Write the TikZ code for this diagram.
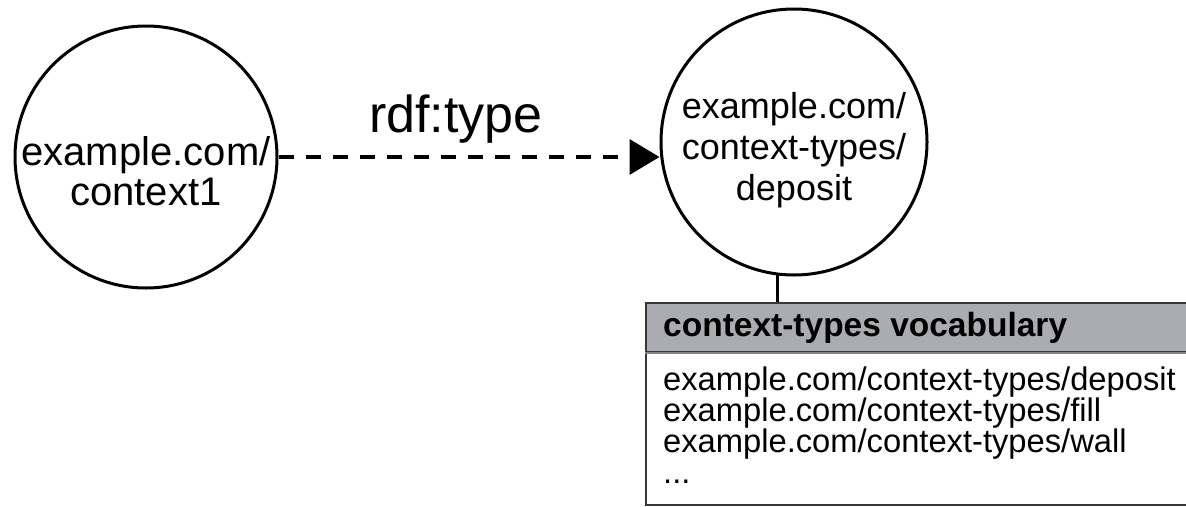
\documentclass[tikz,border=0pt]{standalone}
\usepackage{fontspec}
\setmainfont{Liberation Sans}
\usetikzlibrary{arrows.meta}
\definecolor{hdrgray}{RGB}{170,172,175}
\definecolor{edgegray}{RGB}{55,55,55}
\definecolor{sepgray}{RGB}{130,132,135}
\begin{document}
\begin{tikzpicture}[x=1pt,y=-1pt,
  circ/.style={circle, draw=black, line width=3pt, inner sep=0pt, minimum size=#1},
  ctext/.style={align=center, inner sep=0pt},
  typeedge/.style={line width=3.5pt, dash pattern=on 15pt off 12pt, -{Triangle[length=30pt,width=35pt]}},
  boxline/.style={draw=edgegray, line width=2pt},
]
\clip (0,0) rectangle (1186,506);
\fill[white] (0,0) rectangle (1186,506);

% circles
\node[circ=262pt] (c1) at (146,157) {};
\node[circ=266pt] (c2) at (794,142) {};

\node[ctext, anchor=base, font=\fontsize{40}{40}\selectfont] (t1) at (146,205) {example.com/\\context1};
\node[ctext, anchor=base, font=\fontsize{36}{41}\selectfont] (t2) at (794,200) {example.com/\\context-types/\\deposit};

% rdf:type edge
\draw[typeedge] (c1.east) -- (c1.east -| c2.west);
\node[anchor=base west, inner sep=0pt, font=\fontsize{52}{52}\selectfont] (lab) at (369,132) {rdf:type};

% vocabulary box
\node[boxline, fill=white, anchor=north west, minimum width=560pt, minimum height=202pt, inner sep=0pt] (body) at (645,302) {};
\node[boxline, fill=hdrgray, anchor=north west, minimum width=560pt, minimum height=49pt, inner sep=0pt] (hdr) at (645,302) {};
\draw[sepgray, line width=1.5pt] (hdr.south west) -- (hdr.south east);
\node[anchor=base west, inner sep=0pt, font=\fontsize{33.5}{35}\selectfont\bfseries] (htext) at (663,336) {context-types vocabulary};
\node[anchor=base west, align=left, inner sep=0pt, font=\fontsize{32.7}{31}\selectfont] (items) at (663,483)
  {example.com/context-types/deposit\\example.com/context-types/fill\\example.com/context-types/wall\\...};

% link from circle to box
\draw[line width=3pt] (c2.-97) -- (c2.-97 |- hdr.north);
\end{tikzpicture}
\end{document}
